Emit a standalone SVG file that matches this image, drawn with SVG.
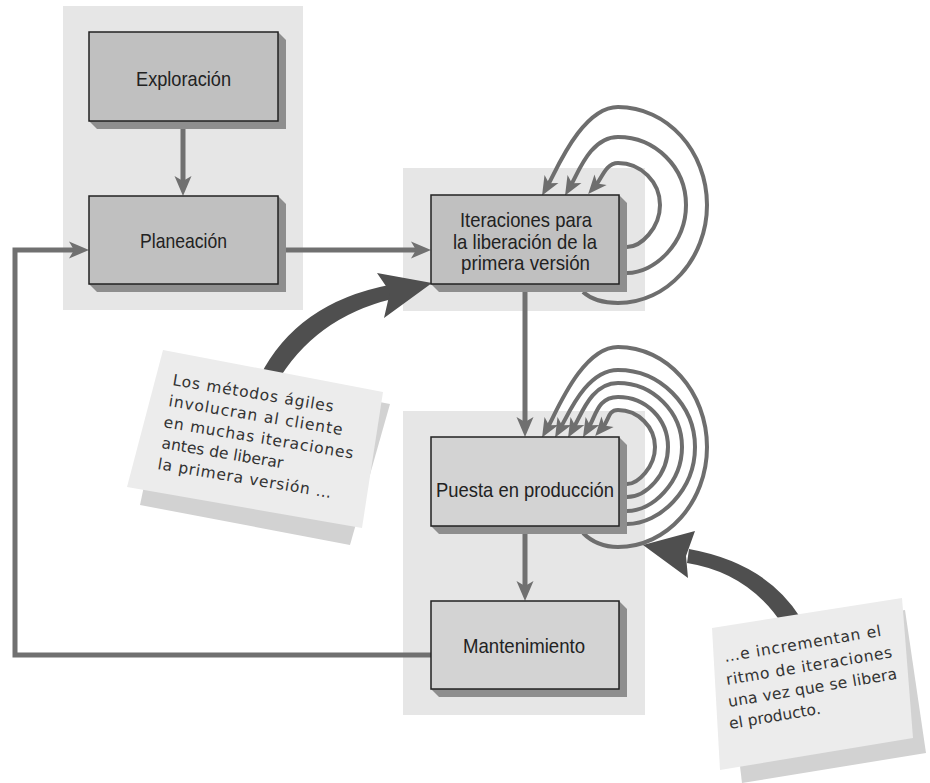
<svg xmlns="http://www.w3.org/2000/svg" width="930" height="783" viewBox="0 0 930 783">
<defs>
<style>
.panel{fill:#e6e6e6}
.shadow{fill:#8e8e8e}
.box{stroke:#222;stroke-width:1.5}
.dark{fill:#c0c0c0}
.light{fill:#d3d3d3}
.lbl{font-family:"Liberation Sans",Arial,sans-serif;font-size:21px;fill:#222}
.conn{fill:none;stroke:#707070;stroke-width:5}
.loop{fill:none;stroke:#6e6e6e;stroke-width:4}
.big{fill:#4f4f4f}
.note{fill:#ececec}
.nshadow{fill:#d2d2d2}
.hand{font-family:"DejaVu Sans","Noto Sans",sans-serif;font-size:15.5px;fill:#333}
</style>
<marker id="ah" viewBox="-21 -9 22 18" refX="-14" refY="0" markerWidth="22" markerHeight="18" markerUnits="userSpaceOnUse" orient="auto">
<path d="M0,0 L-20,-8.5 L-15,0 L-20,8.5 Z" fill="#707070"/>
</marker>
<marker id="ahl" viewBox="-21 -9 22 18" refX="-12" refY="0" markerWidth="22" markerHeight="18" markerUnits="userSpaceOnUse" orient="auto">
<path d="M0,0 L-19,-8 L-14,0 L-19,8 Z" fill="#6e6e6e"/>
</marker>
</defs>
<rect width="930" height="783" fill="#fff"/>
<g id="panels">
<rect class="panel" x="63" y="6" width="240" height="304"/>
<rect class="panel" x="403" y="168" width="242" height="143"/>
<rect class="panel" x="403" y="411" width="242" height="304"/>
</g>
<g id="connectors">
<path class="conn" d="M183,129 L183,182" marker-end="url(#ah)"/>
<path class="conn" d="M286,250 L417,250" marker-end="url(#ah)"/>
<path class="conn" d="M525,292 L525,423" marker-end="url(#ah)"/>
<path class="conn" d="M525,534 L525,587" marker-end="url(#ah)"/>
<path class="conn" d="M431,655 L15,655 L15,250 L75,250" marker-end="url(#ah)"/>
<path class="loop" d="M627,247 C641,247 660,228 660,205 C660,182 641,163 618,163 C606,163 602,178 596,185" marker-end="url(#ahl)"/>
<path class="loop" d="M627,273 C655,273 686,243 686,205 C686,167 655,137 618,137 C591,137 579,171 571,185" marker-end="url(#ahl)"/>
<path class="loop" d="M583,292 C592,300 605,303 618,303 C667,303 707,259 707,205 C707,151 667,107 618,107 C582,107 556,171 548,185" marker-end="url(#ahl)"/>
<path class="loop" d="M627,484 C638,484 655,467 655,447 C655,427 638,410 618,410 C608,410 609,420 603,427" marker-end="url(#ahl)"/>
<path class="loop" d="M627,497 C646,497 668,475 668,447 C668,419 646,397 618,397 C598,397 596,415 589,427" marker-end="url(#ahl)"/>
<path class="loop" d="M627,511 C653,511 682,482 682,447 C682,412 653,383 618,383 C592,383 582,413 574,427" marker-end="url(#ahl)"/>
<path class="loop" d="M627,524 C660,524 695,490 695,447 C695,405 660,370 618,370 C587,370 569,413 561,427" marker-end="url(#ahl)"/>
<path class="loop" d="M583,533 C592,542 605,547 618,547 C667,547 707,502 707,447 C707,392 667,347 618,347 C582,347 556,413 548,427" marker-end="url(#ahl)"/>
<path class="big" d="M260,376 Q297,303 389,285 L392,299 Q314,318 276,384 Z"/>
<path class="big" d="M432,283 L377,273 L390,292 L384,318 Z"/>
<path class="big" d="M800,617 Q766,563 689,549 L687,563 Q750,573 784,627 Z"/>
<path class="big" d="M643,545 L695,531 L686,556 L688,578 Z"/>
</g>
<g id="exploracion">
<polygon class="shadow" points="278,32 286,40 286,129 97,129 89,121"/>
<rect class="box dark" x="89" y="32" width="189" height="89"/>
<text class="lbl" x="136" y="86" textLength="95" lengthAdjust="spacingAndGlyphs">Exploración</text>
</g>
<g id="planeacion">
<polygon class="shadow" points="278,196 286,204 286,292 97,292 89,284"/>
<rect class="box dark" x="89" y="196" width="189" height="88"/>
<text class="lbl" x="140" y="248" textLength="87" lengthAdjust="spacingAndGlyphs">Planeación</text>
</g>
<g id="iteraciones">
<polygon class="shadow" points="619,195 627,203 627,292 439,292 431,284"/>
<rect class="box dark" x="431" y="195" width="188" height="89"/>
<text class="lbl" x="460" y="227" textLength="132" lengthAdjust="spacingAndGlyphs">Iteraciones para</text>
<text class="lbl" x="453" y="249" textLength="144" lengthAdjust="spacingAndGlyphs">la liberación de la</text>
<text class="lbl" x="461" y="270" textLength="129" lengthAdjust="spacingAndGlyphs">primera versión</text>
</g>
<g id="puesta">
<polygon class="shadow" points="619,437 627,445 627,534 439,534 431,526"/>
<rect class="box light" x="431" y="437" width="188" height="89"/>
<text class="lbl" x="436" y="497" textLength="178" lengthAdjust="spacingAndGlyphs">Puesta en producción</text>
</g>
<g id="mantenimiento">
<polygon class="shadow" points="619,601 627,609 627,697 439,697 431,689"/>
<rect class="box light" x="431" y="601" width="188" height="88"/>
<text class="lbl" x="463" y="653" textLength="122" lengthAdjust="spacingAndGlyphs">Mantenimiento</text>
</g>
<g id="note-1">
<polygon class="nshadow" points="170,362 390,404 350,545 140,505"/>
<polygon class="note" points="163,350 383,392 362,528 127,487"/>
<text class="hand" x="172" y="385" transform="rotate(9.5 172 385)" textLength="163">Los métodos ágiles</text>
<text class="hand" x="168" y="406" transform="rotate(9.5 168 406)" textLength="176">involucran al cliente</text>
<text class="hand" x="163" y="427" transform="rotate(9.5 163 427)" textLength="192">en muchas iteraciones</text>
<text class="hand" x="161" y="448" transform="rotate(9.5 161 448)" textLength="123">antes de liberar</text>
<text class="hand" x="157" y="469" transform="rotate(9.5 157 469)" textLength="176">la primera versión …</text>
</g>
<g id="note-2">
<polygon class="nshadow" points="725,640 905,610 926,753 742,783"/>
<polygon class="note" points="712,628 902,598 913,738 720,770"/>
<text class="hand" x="725" y="662" transform="rotate(-9.5 725 662)" textLength="159">…e incrementan el</text>
<text class="hand" x="727" y="685" transform="rotate(-9.5 727 685)" textLength="168">ritmo de iteraciones</text>
<text class="hand" x="729" y="707" transform="rotate(-9.5 729 707)" textLength="171">una vez que se libera</text>
<text class="hand" x="730" y="729" transform="rotate(-9.5 730 729)">el producto.</text>
</g>
</svg>
